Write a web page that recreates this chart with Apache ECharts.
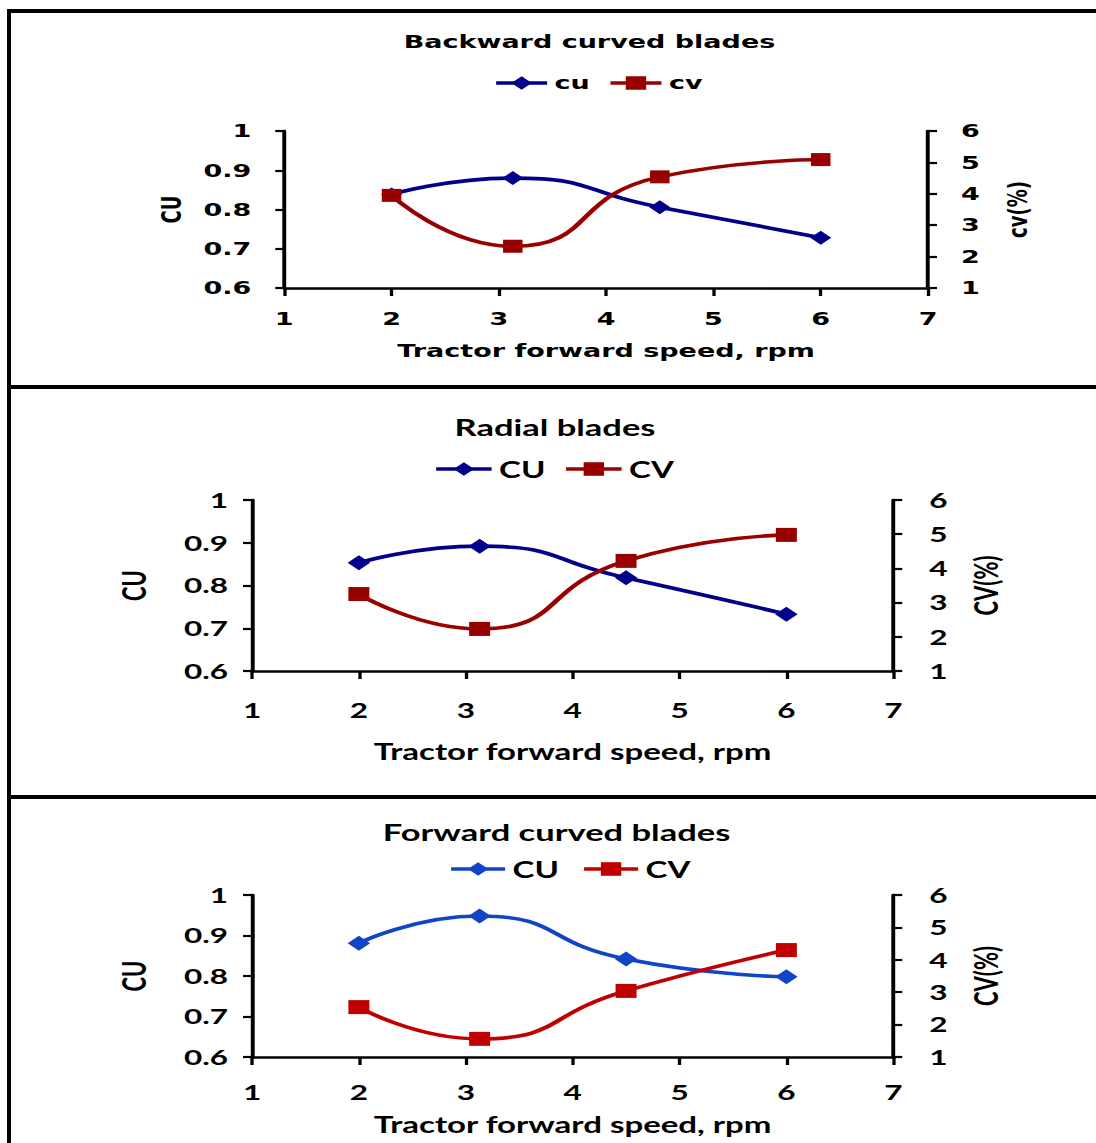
<!DOCTYPE html>
<html><head><meta charset="utf-8">
<script src="https://cdn.jsdelivr.net/npm/echarts@6/dist/echarts.min.js"></script>
<style>
html,body{margin:0;padding:0;background:#fff;}
#page{position:relative;width:1096px;height:1143px;overflow:hidden;background:#fff;}
.panel{position:absolute;left:0;width:731px;transform:scaleX(1.5);transform-origin:0 0;}
.rule{position:absolute;background:#000;}
</style></head><body>
<div id="page">
<div class="panel" id="p1" style="top:13px;height:372px"></div>
<div class="panel" id="p2" style="top:389px;height:406px"></div>
<div class="panel" id="p3" style="top:799px;height:344px"></div>
<div class="rule" style="left:7px;top:9px;width:1089px;height:4px"></div>
<div class="rule" style="left:7px;top:9px;width:4px;height:1134px"></div>
<div class="rule" style="left:7px;top:385px;width:1089px;height:4px"></div>
<div class="rule" style="left:7px;top:795px;width:1089px;height:4px"></div>
</div>
<script>
// ---- data ----
const speed = [2, 3.13, 4.5, 6];
const backwardCU = [0.838, 0.880, 0.806, 0.728];
const backwardCV = [3.95, 2.33, 4.54, 5.09];
const radialCU = [0.853, 0.892, 0.818, 0.733];
const radialCV = [3.25, 2.23, 4.22, 4.98];
const forwardCU = [0.881, 0.948, 0.842, 0.798];
const forwardCV = [2.54, 1.56, 3.04, 4.30];
const panelTitles = ['Backward curved blades', 'Radial blades', 'Forward curved blades'];
const xAxisName = 'Tractor forward speed, rpm';
const seriesNames1 = ['cu', 'cv'];
const seriesNames23 = ['CU', 'CV'];
const yNames1 = ['CU', 'cv(%)'];
const yNames23 = ['CU', 'CV(%)'];

function pairs(xs, ys) { return xs.map((x, i) => [x, ys[i]]); }

function build(id, c) {
  const chart = echarts.init(document.getElementById(id), null, {renderer: 'svg'});
  const txt = {color: '#000', fontFamily: c.font, fontWeight: 'bold', fontSize: c.fs};
  const axisLine = {show: true, onZero: false, lineStyle: {color: '#000', width: 2.6}};
  chart.setOption({
    animation: false,
    graphic: [{
      type: 'text', x: c.titleX, y: c.titleY,
      style: {text: c.title, align: 'center', verticalAlign: 'middle', fill: '#000',
        fontFamily: c.font, fontWeight: 'bold', fontSize: c.titleFs}
    }],
    legend: {
      left: c.legendLeft, top: c.legendTop, padding: 0, itemGap: c.legendGap,
      itemWidth: c.legendItemW, itemHeight: 17,
      lineStyle: {width: 3.5},
      data: c.names, textStyle: Object.assign({}, txt, {fontSize: c.legendFs})
    },
    grid: {left: c.gridLeft, right: c.gridRight, top: c.gridTop, height: c.gridH, outerBoundsMode: 'none'},
    xAxis: {
      type: 'value', min: 1, max: 7, interval: 1,
      name: xAxisName, nameLocation: 'middle', nameGap: c.xNameGap, nameMoveOverlap: false,
      nameTextStyle: Object.assign({}, txt, {fontSize: c.nameFs}),
      axisLine: axisLine,
      axisTick: {show: true, length: 8, lineStyle: {color: '#000', width: 2.2}},
      axisLabel: Object.assign({margin: c.xLabelMargin}, txt),
      splitLine: {show: false}
    },
    yAxis: [{
      type: 'value', min: 0.6, max: 1, interval: 0.1, position: 'left',
      name: c.yNames[0], nameLocation: 'middle', nameGap: c.yNameGapL, nameMoveOverlap: false,
      nameTextStyle: Object.assign({}, txt, {fontSize: c.nameFs}),
      axisLine: axisLine,
      axisTick: {show: true, length: 6, lineStyle: {color: '#000', width: 2.2}},
      axisLabel: Object.assign({margin: c.yLabelMarginL}, txt),
      splitLine: {show: false}
    }, {
      type: 'value', min: 1, max: 6, interval: 1, position: 'right',
      name: c.yNames[1], nameLocation: 'middle', nameGap: c.yNameGapR, nameMoveOverlap: false,
      nameTextStyle: Object.assign({}, txt, {fontSize: c.nameFs}),
      axisLine: axisLine,
      axisTick: {show: true, length: 6, lineStyle: {color: '#000', width: 2.2}},
      axisLabel: Object.assign({margin: c.yLabelMarginR}, txt),
      splitLine: {show: false}
    }],
    series: [{
      name: c.names[0], type: 'line', yAxisIndex: 0, smooth: 0.55,
      data: pairs(speed, c.cu),
      symbol: 'diamond', symbolSize: c.diamondSize,
      lineStyle: {color: c.cuColor, width: 3.6}, itemStyle: {color: c.cuColor}
    }, {
      name: c.names[1], type: 'line', yAxisIndex: 1, smooth: 0.55,
      data: pairs(speed, c.cv),
      symbol: 'rect', symbolSize: c.rectSize,
      lineStyle: {color: c.cvColor, width: 3.6}, itemStyle: {color: c.cvColor}
    }]
  });
}

build('p1', {
  title: panelTitles[0], titleX: 393, titleY: 29, titleFs: 18,
  font: 'DejaVu Sans', fs: 18, legendFs: 18, nameFs: 18,
  names: seriesNames1, yNames: yNames1,
  legendLeft: 329, legendTop: 61, legendGap: 12, legendItemW: 34,
  gridLeft: 189.5, gridRight: 112.3, gridTop: 118, gridH: 157,
  xNameGap: 54, xLabelMargin: 22, yLabelMarginL: 22, yLabelMarginR: 22,
  yNameGapL: 66, yNameGapR: 51,
  cu: backwardCU, cv: backwardCV, cuColor: '#00008B', cvColor: '#990000',
  diamondSize: 14, rectSize: 13
});
build('p2', {
  title: panelTitles[1], titleX: 370, titleY: 38, titleFs: 23,
  font: 'Lato', fs: 21, legendFs: 22, nameFs: 22,
  names: seriesNames23, yNames: yNames23,
  legendLeft: 289, legendTop: 69, legendGap: 12, legendItemW: 37,
  gridLeft: 168, gridRight: 135.5, gridTop: 111, gridH: 171,
  xNameGap: 69, xLabelMargin: 29, yLabelMarginL: 16, yLabelMarginR: 24,
  yNameGapL: 68, yNameGapR: 50,
  cu: radialCU, cv: radialCV, cuColor: '#00008B', cvColor: '#990000',
  diamondSize: 15, rectSize: 14
});
build('p3', {
  title: panelTitles[2], titleX: 371, titleY: 33, titleFs: 23,
  font: 'Lato', fs: 21, legendFs: 22, nameFs: 22,
  names: seriesNames23, yNames: yNames23,
  legendLeft: 299, legendTop: 59, legendGap: 15, legendItemW: 36,
  gridLeft: 168, gridRight: 135.5, gridTop: 96, gridH: 162,
  xNameGap: 56, xLabelMargin: 25, yLabelMarginL: 16, yLabelMarginR: 24,
  yNameGapL: 68, yNameGapR: 50,
  cu: forwardCU, cv: forwardCV, cuColor: '#1045C8', cvColor: '#C00000',
  diamondSize: 15, rectSize: 14
});
</script>
</body></html>
